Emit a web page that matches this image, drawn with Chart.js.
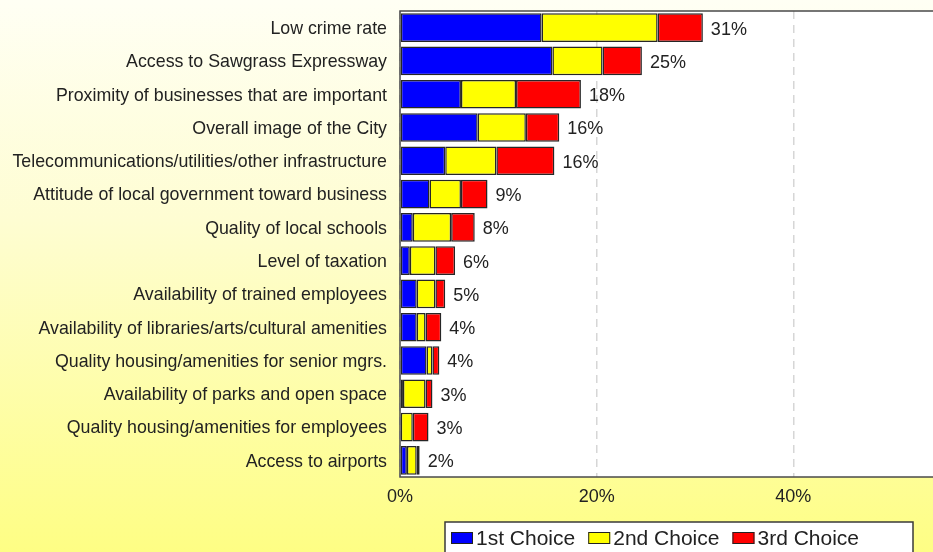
<!DOCTYPE html>
<html>
<head>
<meta charset="utf-8">
<script src="https://cdn.jsdelivr.net/npm/chart.js@4/dist/chart.umd.min.js"></script>
<style>
  html, body {
    margin: 0; padding: 0; width: 933px; height: 552px; overflow: hidden;
    background: linear-gradient(to bottom, #fffff4 0%, #fefdd2 40%, #fefe84 100%);
  }
  #wrap { position: absolute; left: 0; top: 0; width: 1010px; height: 560px; }
</style>
</head>
<body>
<div id="wrap"><canvas id="c" width="1010" height="560"></canvas></div>
<script>
// Factors ranked by share of respondents (percent), split by choice rank
const categories = [
  'Low crime rate',
  'Access to Sawgrass Expressway',
  'Proximity of businesses that are important',
  'Overall image of the City',
  'Telecommunications/utilities/other infrastructure',
  'Attitude of local government toward business',
  'Quality of local schools',
  'Level of taxation',
  'Availability of trained employees',
  'Availability of libraries/arts/cultural amenities',
  'Quality housing/amenities for senior mgrs.',
  'Availability of parks and open space',
  'Quality housing/amenities for employees',
  'Access to airports'
];
const firstChoice  = [14.4, 15.5, 6.2, 7.9, 4.6, 3.0, 1.3, 1.0, 1.7, 1.7, 2.7, 0.3, 0.0, 0.7];
const secondChoice = [11.8, 5.1, 5.6, 4.9, 5.2, 3.2, 3.9, 2.6, 1.9, 0.9, 0.6, 2.3, 1.3, 1.0];
const thirdChoice  = [4.6, 4.0, 6.6, 3.4, 5.9, 2.7, 2.4, 2.0, 1.0, 1.6, 0.7, 0.7, 1.6, 0.3];
const seriesNames  = ['1st Choice', '2nd Choice', '3rd Choice'];
const xTickValues  = [0, 20, 40, 60];

const FONT = '"Liberation Sans", Arial, sans-serif';
const TEXT = '#222222';
const colors = ['#0000ff', '#ffff00', '#ff0000'];
const seriesData = [firstChoice, secondChoice, thirdChoice];

// White plot area with a dark frame
const plotFrame = {
  id: 'plotFrame',
  beforeDraw(chart) {
    const { ctx, chartArea: a } = chart;
    ctx.save();
    ctx.fillStyle = '#ffffff';
    ctx.fillRect(a.left, a.top, a.right - a.left, a.bottom - a.top);
    ctx.restore();
  },
  afterDatasetsDraw(chart) {
    const { ctx, chartArea: a } = chart;
    ctx.save();
    ctx.strokeStyle = '#4a4a4a';
    ctx.lineWidth = 1.5;
    ctx.strokeRect(a.left, a.top, a.right - a.left, a.bottom - a.top);
    ctx.restore();
  }
};

// Total percentage printed after each stacked bar
const totalLabels = {
  id: 'totalLabels',
  afterDatasetsDraw(chart) {
    const { ctx, scales: { x, y } } = chart;
    ctx.save();
    ctx.font = '18px ' + FONT;
    ctx.fillStyle = TEXT;
    ctx.textAlign = 'left';
    ctx.textBaseline = 'middle';
    categories.forEach((c, i) => {
      const total = firstChoice[i] + secondChoice[i] + thirdChoice[i];
      const px = x.getPixelForValue(total);
      const py = y.getPixelForValue(i);
      ctx.fillText(Math.round(total) + '%', px + 8, py + 2);
    });
    ctx.restore();
  }
};

// Boxed legend under the axis
const boxedLegend = {
  id: 'boxedLegend',
  afterDraw(chart) {
    const { ctx } = chart;
    ctx.save();
    ctx.fillStyle = '#ffffff';
    ctx.fillRect(445, 522, 468, 40);
    ctx.strokeStyle = '#3a3a3a';
    ctx.lineWidth = 1.5;
    ctx.strokeRect(445, 522, 468, 40);
    ctx.font = '21px ' + FONT;
    ctx.textBaseline = 'middle';
    ctx.textAlign = 'left';
    let x = 451;
    chart.data.datasets.forEach(ds => {
      ctx.fillStyle = ds.backgroundColor;
      ctx.fillRect(x, 532, 22, 12);
      ctx.strokeStyle = '#222';
      ctx.lineWidth = 1;
      ctx.strokeRect(x + 0.5, 532.5, 21, 11);
      ctx.fillStyle = TEXT;
      ctx.fillText(ds.label, x + 25, 539);
      x += 25 + ctx.measureText(ds.label).width + 13;
    });
    ctx.restore();
  }
};

new Chart(document.getElementById('c'), {
  type: 'bar',
  data: {
    labels: categories,
    datasets: seriesNames.map((name, k) => ({
      label: name,
      data: seriesData[k],
      backgroundColor: colors[k],
      borderColor: '#262626',
      borderWidth: 1.5,
      borderSkipped: false,
      barPercentage: 0.86,
      categoryPercentage: 1.0
    }))
  },
  options: {
    indexAxis: 'y',
    responsive: false,
    animation: false,
    devicePixelRatio: 1,
    layout: { padding: { top: 11, right: 20, bottom: 0, left: 0 } },
    plugins: {
      legend: { display: false },
      tooltip: { enabled: false },
      title: { display: false }
    },
    scales: {
      x: {
        stacked: true,
        min: 0,
        max: 60,
        afterBuildTicks(scale) {
          scale.ticks = xTickValues.map(v => ({ value: v }));
        },
        ticks: {
          callback: v => v + '%',
          font: { family: FONT, size: 18 },
          color: TEXT,
          padding: 9,
          maxRotation: 0
        },
        grid: {
          color: '#d6d6d6',
          lineWidth: 1.5,
          drawTicks: false
        },
        border: { display: false, dash: [8, 6] },
        afterFit(scale) {
          scale.height = 83;
          scale.paddingLeft = 0;
          scale.paddingRight = 0;
        }
      },
      y: {
        stacked: true,
        ticks: {
          font: { family: FONT, size: 17.8 },
          color: TEXT,
          padding: 13,
          labelOffset: 1.5,
          autoSkip: false
        },
        grid: { display: false, drawTicks: false },
        border: { display: false },
        afterFit(scale) {
          scale.width = 400;
          scale.paddingTop = 0;
          scale.paddingBottom = 0;
        }
      }
    }
  },
  plugins: [plotFrame, totalLabels, boxedLegend]
});
</script>
</body>
</html>
